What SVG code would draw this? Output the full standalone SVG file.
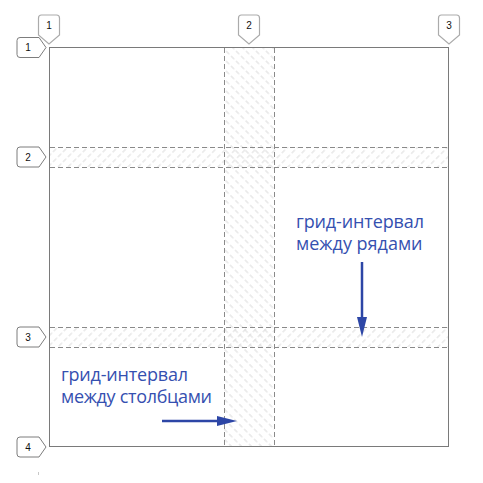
<svg xmlns="http://www.w3.org/2000/svg" width="483" height="483" viewBox="0 0 483 483">
<style>
.gapline{fill:none;stroke:#8a8a8a;stroke-width:1;stroke-dasharray:5 3}
.frame{fill:none;stroke:#7a7a7a;stroke-width:1}
.cbadge{fill:#fff;stroke:#ababab;stroke-width:1.2}
.rbadge{fill:#fff;stroke:#7d7d7d;stroke-width:1}
.num{font-family:"Liberation Sans",Arial,sans-serif;font-size:10px;fill:#111;text-anchor:middle}
.lbl{font-family:"Open Sans","Liberation Sans",sans-serif;font-size:18px;fill:#3550b0}
.arr{stroke:#2d46a6;stroke-width:2.5;fill:none}
.head{fill:#2d46a6}
</style>
<defs>
<pattern id="hcol" patternUnits="userSpaceOnUse" width="7" height="7.07" patternTransform="rotate(45)">
<line x1="0" y1="3.5" x2="4.5" y2="3.5" stroke="#dadada" stroke-width="1"/>
</pattern>
<pattern id="hrow" patternUnits="userSpaceOnUse" width="7" height="7.07" patternTransform="rotate(-45)">
<line x1="0" y1="3.5" x2="4.5" y2="3.5" stroke="#dadada" stroke-width="1"/>
</pattern>
</defs>
<rect width="483" height="483" fill="#fff"/>
<g id="grid">
<rect x="224" y="47" width="50" height="400" fill="url(#hcol)"/>
<rect x="49" y="147" width="400" height="20" fill="url(#hrow)"/>
<rect x="49" y="327" width="400" height="20" fill="url(#hrow)"/>
<rect class="frame" x="49.5" y="47.5" width="399" height="399"/>
<line class="gapline" x1="224.5" y1="48" x2="224.5" y2="446"/>
<line class="gapline" x1="274.5" y1="48" x2="274.5" y2="446"/>
<line class="gapline" x1="50" y1="147.5" x2="448" y2="147.5"/>
<line class="gapline" x1="50" y1="167.5" x2="448" y2="167.5"/>
<line class="gapline" x1="50" y1="327.5" x2="448" y2="327.5"/>
<line class="gapline" x1="50" y1="347.5" x2="448" y2="347.5"/>
</g>
<g id="label-rows">
<text class="lbl" x="296" y="228" textLength="128" lengthAdjust="spacing">грид-интервал</text>
<text class="lbl" x="296" y="250">между рядами</text>
</g>
<g id="label-cols">
<text class="lbl" x="61" y="381" textLength="127" lengthAdjust="spacing">грид-интервал</text>
<text class="lbl" x="61" y="403" textLength="151" lengthAdjust="spacing">между столбцами</text>
</g>
<g id="connectors">
<line class="arr" x1="362" y1="262" x2="362" y2="320"/>
<polygon class="head" points="357,317 367,317 362,337"/>
<line class="arr" x1="162" y1="421" x2="220" y2="421"/>
<polygon class="head" points="217,416 217,426 237,421"/>
</g>
<g id="col-badge-1" transform="translate(49,44)">
<path class="cbadge" d="M-10.5,-26 Q-10.5,-29 -7.5,-29 L7.5,-29 Q10.5,-29 10.5,-26 L10.5,-9 L0,0 L-10.5,-9 Z"/>
<text class="num" x="0" y="-15">1</text>
</g>
<g id="col-badge-2" transform="translate(249,44)">
<path class="cbadge" d="M-10.5,-26 Q-10.5,-29 -7.5,-29 L7.5,-29 Q10.5,-29 10.5,-26 L10.5,-9 L0,0 L-10.5,-9 Z"/>
<text class="num" x="0" y="-15">2</text>
</g>
<g id="col-badge-3" transform="translate(449,44)">
<path class="cbadge" d="M-10.5,-26 Q-10.5,-29 -7.5,-29 L7.5,-29 Q10.5,-29 10.5,-26 L10.5,-9 L0,0 L-10.5,-9 Z"/>
<text class="num" x="0" y="-15">3</text>
</g>
<g id="row-badge-1" transform="translate(46,47.5)">
<path class="rbadge" d="M-29,-7 Q-29,-10 -26,-10 L-7,-10 L0,0 L-7,10 L-26,10 Q-29,10 -29,7 Z"/>
<text class="num" x="-18" y="3.5">1</text>
</g>
<g id="row-badge-2" transform="translate(46,157)">
<path class="rbadge" d="M-29,-7 Q-29,-10 -26,-10 L-7,-10 L0,0 L-7,10 L-26,10 Q-29,10 -29,7 Z"/>
<text class="num" x="-18" y="3.5">2</text>
</g>
<g id="row-badge-3" transform="translate(46,337)">
<path class="rbadge" d="M-29,-7 Q-29,-10 -26,-10 L-7,-10 L0,0 L-7,10 L-26,10 Q-29,10 -29,7 Z"/>
<text class="num" x="-18" y="3.5">3</text>
</g>
<g id="row-badge-4" transform="translate(46,447)">
<path class="rbadge" d="M-29,-7 Q-29,-10 -26,-10 L-7,-10 L0,0 L-7,10 L-26,10 Q-29,10 -29,7 Z"/>
<text class="num" x="-18" y="3.5">4</text>
</g>
<line x1="38.5" y1="472" x2="38.5" y2="475" stroke="#c8c8c8" stroke-width="1"/>
</svg>
